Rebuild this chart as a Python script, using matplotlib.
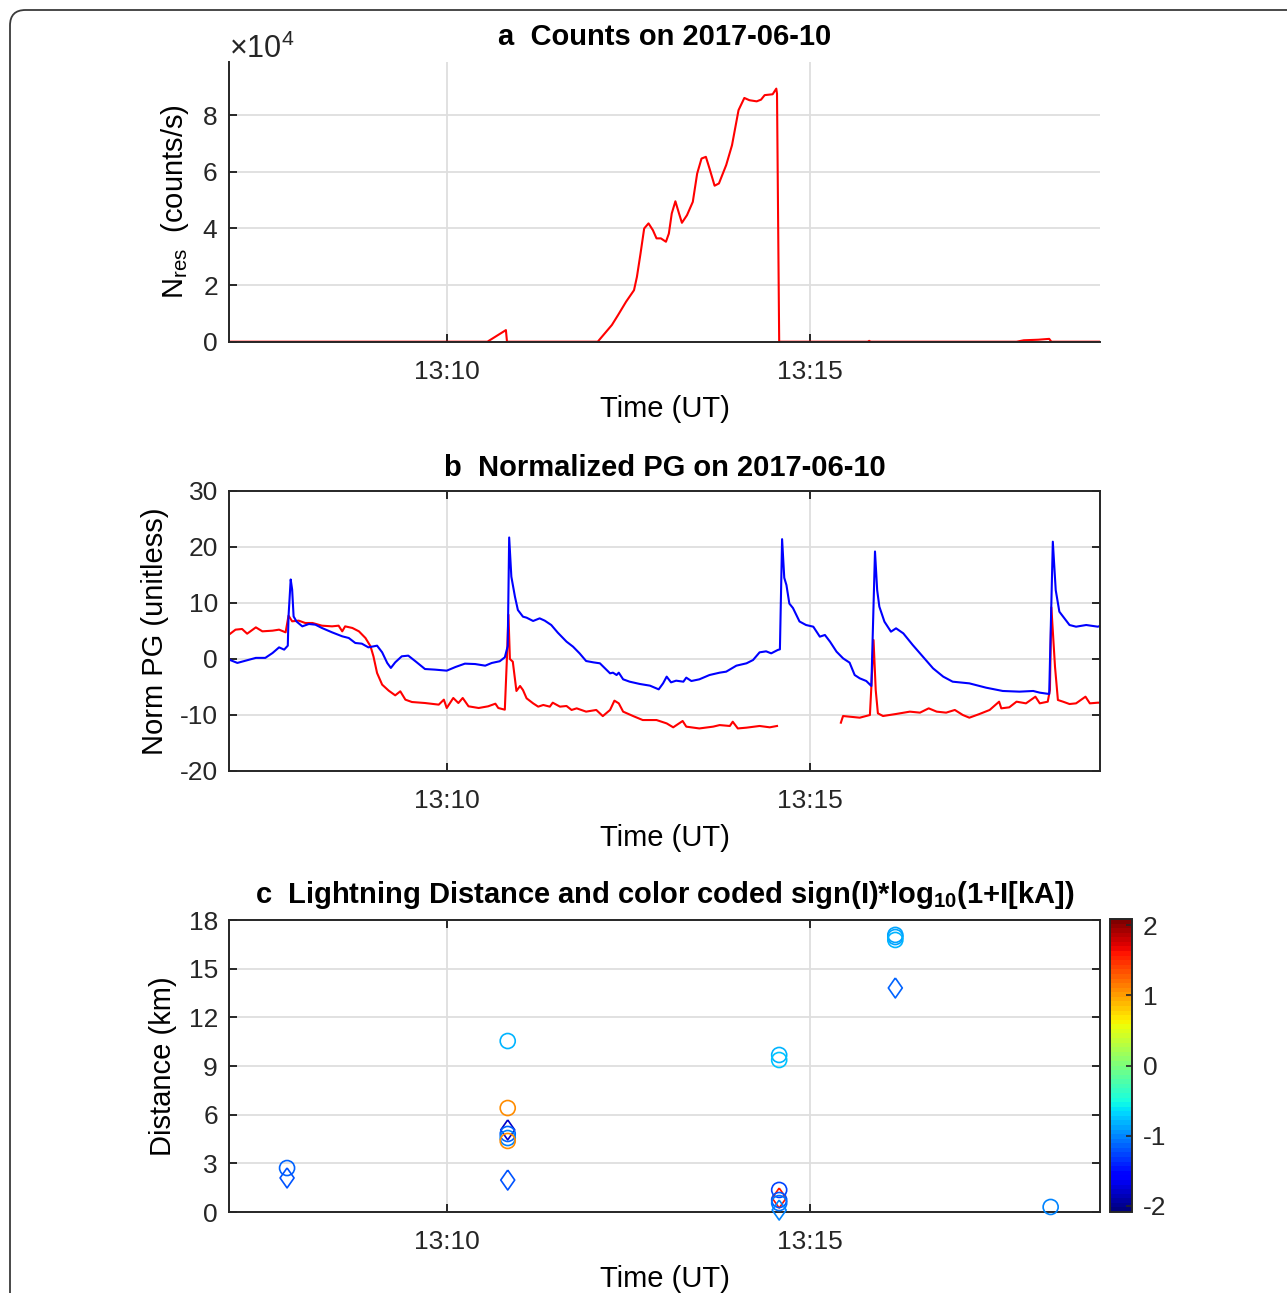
import numpy as np
import matplotlib

matplotlib.use("Agg")
import matplotlib.pyplot as plt  # noqa: E402
import matplotlib.dates as mdates  # noqa: E402
from matplotlib.cm import ScalarMappable  # noqa: E402
from matplotlib.colors import Normalize  # noqa: E402
from matplotlib.patches import FancyBboxPatch  # noqa: E402

plt.rcParams["font.family"] = ["Liberation Sans", "DejaVu Sans"]
plt.rcParams["mathtext.fontset"] = "custom"
plt.rcParams["mathtext.rm"] = "Liberation Sans"
plt.rcParams["mathtext.it"] = "Liberation Sans:italic"
plt.rcParams["mathtext.bf"] = "Liberation Sans:bold"
plt.rcParams["axes.unicode_minus"] = False

# ---- data (time in minutes after 13:00 UT on 2017-06-10) ----
counts_min = [7.0, 10.56, 10.815, 10.83, 12.08, 12.275, 12.36, 12.47, 12.58, 12.62,
              12.67, 12.72, 12.78, 12.84, 12.89, 12.95, 13.02, 13.06, 13.10, 13.15,
              13.20, 13.24, 13.31, 13.39, 13.45, 13.51, 13.57, 13.62, 13.69, 13.75,
              13.85, 13.93, 14.02, 14.10, 14.17, 14.27, 14.33, 14.38, 14.49, 14.54,
              14.55, 14.58, 15.80, 15.82, 15.84, 17.85, 17.95, 18.15, 18.30, 18.33,
              19.0]
counts_e4 = [0, 0, 0.41, 0, 0, 0.59, 0.94, 1.41, 1.82, 2.29,
             3.12, 4.0, 4.18, 3.94, 3.65, 3.65, 3.53, 3.82, 4.53, 4.96,
             4.53, 4.2, 4.47, 4.94, 5.94, 6.47, 6.53, 6.12, 5.51, 5.59,
             6.24, 6.94, 8.18, 8.61, 8.53, 8.49, 8.55, 8.71, 8.74, 8.94,
             8.76, 0, 0, 0.03, 0, 0, 0.05, 0.07, 0.1, 0,
             0]

pg_blue_min = [7.0, 7.115, 7.23, 7.37, 7.50, 7.60, 7.69, 7.76, 7.81, 7.82,
               7.85, 7.87, 7.89, 7.93, 8.01, 8.10, 8.19, 8.28, 8.42, 8.56,
               8.65, 8.74, 8.83, 8.92, 8.99, 9.04, 9.11, 9.18, 9.23, 9.29,
               9.38, 9.47, 9.57, 9.70, 9.84, 10.0, 10.12, 10.25, 10.39, 10.53,
               10.62, 10.73, 10.80, 10.84, 10.86, 10.89, 10.94, 10.98, 11.05, 11.10,
               11.19, 11.28, 11.35, 11.44, 11.53, 11.65, 11.74, 11.83, 11.92, 12.02,
               12.11, 12.25, 12.29, 12.34, 12.37, 12.43, 12.52, 12.66, 12.80, 12.92,
               12.98, 13.03, 13.09, 13.16, 13.26, 13.30, 13.37, 13.48, 13.62, 13.76,
               13.85, 13.99, 14.13, 14.22, 14.31, 14.40, 14.47, 14.56, 14.59, 14.62,
               14.65, 14.68, 14.72, 14.77, 14.86, 14.95, 15.05, 15.14, 15.21, 15.28,
               15.37, 15.46, 15.55, 15.62, 15.69, 15.78, 15.85, 15.90, 15.93, 15.96,
               16.03, 16.12, 16.19, 16.29, 16.42, 16.56, 16.70, 16.84, 16.97, 17.20,
               17.43, 17.66, 17.89, 18.08, 18.17, 18.30, 18.35, 18.39, 18.44, 18.51,
               18.58, 18.67, 18.81, 18.97, 19.0]
pg_blue = [-0.1, -0.7, -0.3, 0.2, 0.2, 1.07, 2.08, 1.67, 2.38, 7.6,
           14.2, 12.4, 7.6, 6.7, 5.83, 6.25, 6.13, 5.54, 4.76, 4.05,
           3.75, 2.86, 2.74, 2.08, 2.26, 2.38, 1.19, -0.71, -1.6, -0.6,
           0.48, 0.6, -0.42, -1.79, -1.9, -2.08, -1.43, -0.83, -0.9, -1.19,
           -0.71, -0.4, 0.3, 2.3, 21.7, 14.7, 11.1, 8.75, 7.56, 7.38,
           6.79, 7.26, 6.85, 6.07, 4.70, 3.10, 2.20, 1.01, -0.36, -0.60,
           -0.77, -2.56, -2.44, -2.86, -2.44, -3.63, -4.05, -4.46, -4.76, -5.42,
           -4.35, -3.15, -4.17, -3.87, -4.05, -3.33, -3.93, -3.63, -2.86, -2.44,
           -2.26, -1.19, -0.77, -0.18, 1.19, 1.37, 1.01, 1.61, 1.73, 21.4,
           14.5, 13.2, 9.9, 9.1, 6.7, 6.07, 5.77, 3.99, 4.29, 3.10,
           1.31, 0.12, -0.65, -2.86, -3.45, -3.93, -4.82, 19.2, 12.3, 9.35,
           6.67, 4.88, 5.48, 4.58, 2.5, 0.42, -1.67, -3.15, -4.05, -4.35,
           -5.12, -5.71, -5.83, -5.71, -6.01, -6.25, 20.95, 12.3, 8.45, 7.26,
           6.07, 5.77, 6.07, 5.77, 5.9]

pg_red_min = [7.0, 7.09, 7.18, 7.25, 7.37, 7.46, 7.60, 7.69, 7.78, 7.82,
              7.87, 7.96, 8.05, 8.15, 8.28, 8.42, 8.51, 8.56, 8.60, 8.70,
              8.79, 8.88, 8.95, 8.99, 9.04, 9.11, 9.20, 9.29, 9.36, 9.43,
              9.52, 9.70, 9.89, 9.96, 10.0, 10.09, 10.16, 10.22, 10.30, 10.44,
              10.57, 10.67, 10.71, 10.80, 10.83, 10.85, 10.87, 10.91, 10.96, 11.01,
              11.05, 11.10, 11.19, 11.26, 11.33, 11.42, 11.46, 11.56, 11.65, 11.72,
              11.79, 11.92, 12.06, 12.15, 12.25, 12.31, 12.37, 12.43, 12.57, 12.70,
              12.89, 13.03, 13.12, 13.25, 13.30, 13.48, 13.67, 13.76, 13.90, 13.94,
              14.01, 14.13, 14.31, 14.45, 14.55, 15.0, 15.43, 15.46, 15.55, 15.69,
              15.83, 15.85, 15.88, 15.91, 15.94, 16.01, 16.19, 16.38, 16.52, 16.64,
              16.75, 16.88, 17.00, 17.11, 17.20, 17.34, 17.48, 17.61, 17.64, 17.75,
              17.85, 17.98, 18.11, 18.17, 18.28, 18.31, 18.33, 18.38, 18.42, 18.49,
              18.58, 18.67, 18.80, 18.86, 18.97, 19.0]
pg_red = [4.35, 5.24, 5.36, 4.52, 5.65, 4.94, 5.06, 5.24, 4.76, 7.74,
          6.73, 6.85, 6.43, 6.43, 5.95, 5.83, 5.95, 4.94, 5.83, 5.54,
          4.94, 3.75, 2.26, 0.48, -2.5, -4.58, -5.65, -6.49, -5.77, -7.26,
          -7.68, -7.86, -8.15, -7.26, -8.75, -6.96, -7.86, -6.96, -8.45, -8.75,
          -8.45, -7.98, -8.75, -9.05, 0.48, 7.9, 0.0, -0.48, -5.71, -4.82,
          -5.54, -7.02, -7.92, -8.51, -8.21, -8.51, -7.80, -8.51, -8.39, -9.1,
          -8.81, -9.4, -9.1, -10.2, -9.1, -7.44, -7.92, -9.4, -10.2, -10.9,
          -10.9, -11.5, -12.2, -11.07, -12.08, -12.4, -12.08, -11.8, -11.96, -11.2,
          -12.4, -12.26, -11.96, -12.2, -11.96, np.nan, -11.37, -10.18, -10.3, -10.48,
          -10.0, -4.94, 3.39, -5.54, -9.7, -10.18, -9.82, -9.4, -9.58, -8.81,
          -9.4, -9.58, -9.1, -10.0, -10.48, -9.82, -9.1, -7.62, -8.81, -8.63,
          -7.62, -7.92, -6.73, -7.92, -7.62, -5.54, 9.23, -1.37, -7.32, -7.62,
          -8.04, -7.92, -6.73, -7.92, -7.8, -7.8]

flash_min = [7.80, 7.80, 10.84, 10.84, 10.84, 10.84, 10.84, 10.84, 10.84,
             14.58, 14.58, 14.58, 14.58, 14.58, 14.58, 14.58,
             16.18, 16.18, 16.18, 16.18, 18.32]
flash_km = [2.71, 2.10, 10.54, 6.41, 5.06, 4.81, 4.56, 4.38, 1.97,
            9.68, 9.37, 1.36, 0.86, 0.74, 0.55, 0.12,
            17.08, 16.95, 16.77, 13.81, 0.31]
flash_logI = [-1.15, -1.2, -0.8, 1.05, -1.8, -1.15, -1.0, 1.05, -1.2,
              -0.8, -0.75, -1.25, 1.6, -1.2, -1.05, -1.0,
              -0.85, -0.9, -0.8, -1.15, -1.0]
flash_kind = ["o", "d", "o", "o", "d", "o", "o", "o", "d",
              "o", "o", "o", "d", "o", "o", "d",
              "o", "o", "o", "d", "o"]

DAY = np.datetime64("2017-06-10T13:00:00")


def to_time(minutes):
    ms = np.round(np.asarray(minutes, dtype=float) * 60000).astype("int64")
    return DAY + ms.astype("timedelta64[ms]")


W, H = 1287, 1293
DARK = "#262626"


def box(left, top, right, bottom):
    return [left / W, 1 - bottom / H, (right - left) / W, (bottom - top) / H]


def style(ax, full_box=True):
    ax.grid(True, color="#dedede", linewidth=1.3)
    ax.set_axisbelow(True)
    for sp in ax.spines.values():
        sp.set_color(DARK)
        sp.set_linewidth(1.4)
    if not full_box:
        ax.spines[["top", "right"]].set_visible(False)
    ax.tick_params(direction="in", length=6, width=1.4, colors=DARK,
                   labelsize=19, pad=8, top=full_box, right=full_box)
    ax.tick_params(axis="x", pad=13)
    ax.set_xlim(to_time(7.0), to_time(19.0))
    ax.xaxis.set_major_locator(mdates.MinuteLocator(byminute=[10, 15]))
    ax.xaxis.set_major_formatter(mdates.DateFormatter("%H:%M"))
    ax.set_xlabel("Time (UT)", fontsize=21, color="black", labelpad=8)


fig = plt.figure(figsize=(W / 100, H / 100), dpi=100)

frame = FancyBboxPatch((10 / W, -0.05), 1.1, 1 - 10 / H + 0.05,
                       boxstyle="round,pad=0,rounding_size=0.012",
                       transform=fig.transFigure, fill=False,
                       edgecolor="#3a3a3a", linewidth=1.3)
fig.patches.append(frame)

# a: counts
ax_a = fig.add_axes(box(229, 62, 1100, 341.7))
ax_a.plot(to_time(counts_min), np.array(counts_e4) * 1e4, color="red", lw=1.5)
style(ax_a, full_box=False)
ax_a.set_ylim(0, 9.88e4)
ax_a.set_yticks(np.arange(0, 9e4, 2e4))
ax_a.ticklabel_format(axis="y", style="sci", scilimits=(4, 4), useMathText=True)
ax_a.yaxis.get_offset_text().set_fontsize(22)
ax_a.yaxis.get_offset_text().set_color(DARK)
ax_a.set_ylabel(r"N$_{\mathrm{res}}$  (counts/s)", fontsize=21, labelpad=8)
ax_a.set_title("a  Counts on 2017-06-10", fontsize=21, fontweight="bold", pad=12)

# b: normalized potential gradient
ax_b = fig.add_axes(box(229, 491, 1100, 771))
ax_b.plot(to_time(pg_red_min), pg_red, color="red", lw=1.5)
ax_b.plot(to_time(pg_blue_min), pg_blue, color="blue", lw=1.5)
style(ax_b)
ax_b.set_ylim(-20, 30)
ax_b.set_yticks(np.arange(-20, 31, 10))
ax_b.set_ylabel("Norm PG (unitless)", fontsize=21, labelpad=8)
ax_b.set_title("b  Normalized PG on 2017-06-10", fontsize=21, fontweight="bold", pad=11)

# c: lightning distance, colour = sign(I)*log10(1+|I|)
ax_c = fig.add_axes(box(229, 920, 1100, 1212))
cmap = plt.get_cmap("jet", 64)
norm = Normalize(vmin=-2.09, vmax=2.09)
diamond = [(0, 1), (0.7, 0), (0, -1), (-0.7, 0), (0, 1)]
t_flash = to_time(flash_min)
for i, kind in enumerate(flash_kind):
    ax_c.scatter(t_flash[i], flash_km[i],
                 marker="o" if kind == "o" else diamond,
                 s=117 if kind == "o" else 207,
                 facecolors="none", edgecolors=[cmap(norm(flash_logI[i]))],
                 linewidths=1.2, clip_on=False, zorder=3)
style(ax_c)
ax_c.set_ylim(0, 18)
ax_c.set_yticks(np.arange(0, 19, 3))
ax_c.set_ylabel("Distance (km)", fontsize=21, labelpad=8)
ax_c.set_title(r"c  Lightning Distance and color coded sign(I)*log$_{\mathbf{10}}$(1+I[kA])",
               fontsize=21, fontweight="bold", pad=12)

cax = fig.add_axes(box(1110, 919, 1132, 1212))
cb = fig.colorbar(ScalarMappable(norm=norm, cmap=cmap), cax=cax, ticks=[-2, -1, 0, 1, 2])
cb.ax.tick_params(direction="in", length=4, width=1.2, colors=DARK, labelsize=19, pad=8)
cb.outline.set_edgecolor(DARK)
cb.outline.set_linewidth(1.4)

fig.savefig("out.png", dpi=100)
